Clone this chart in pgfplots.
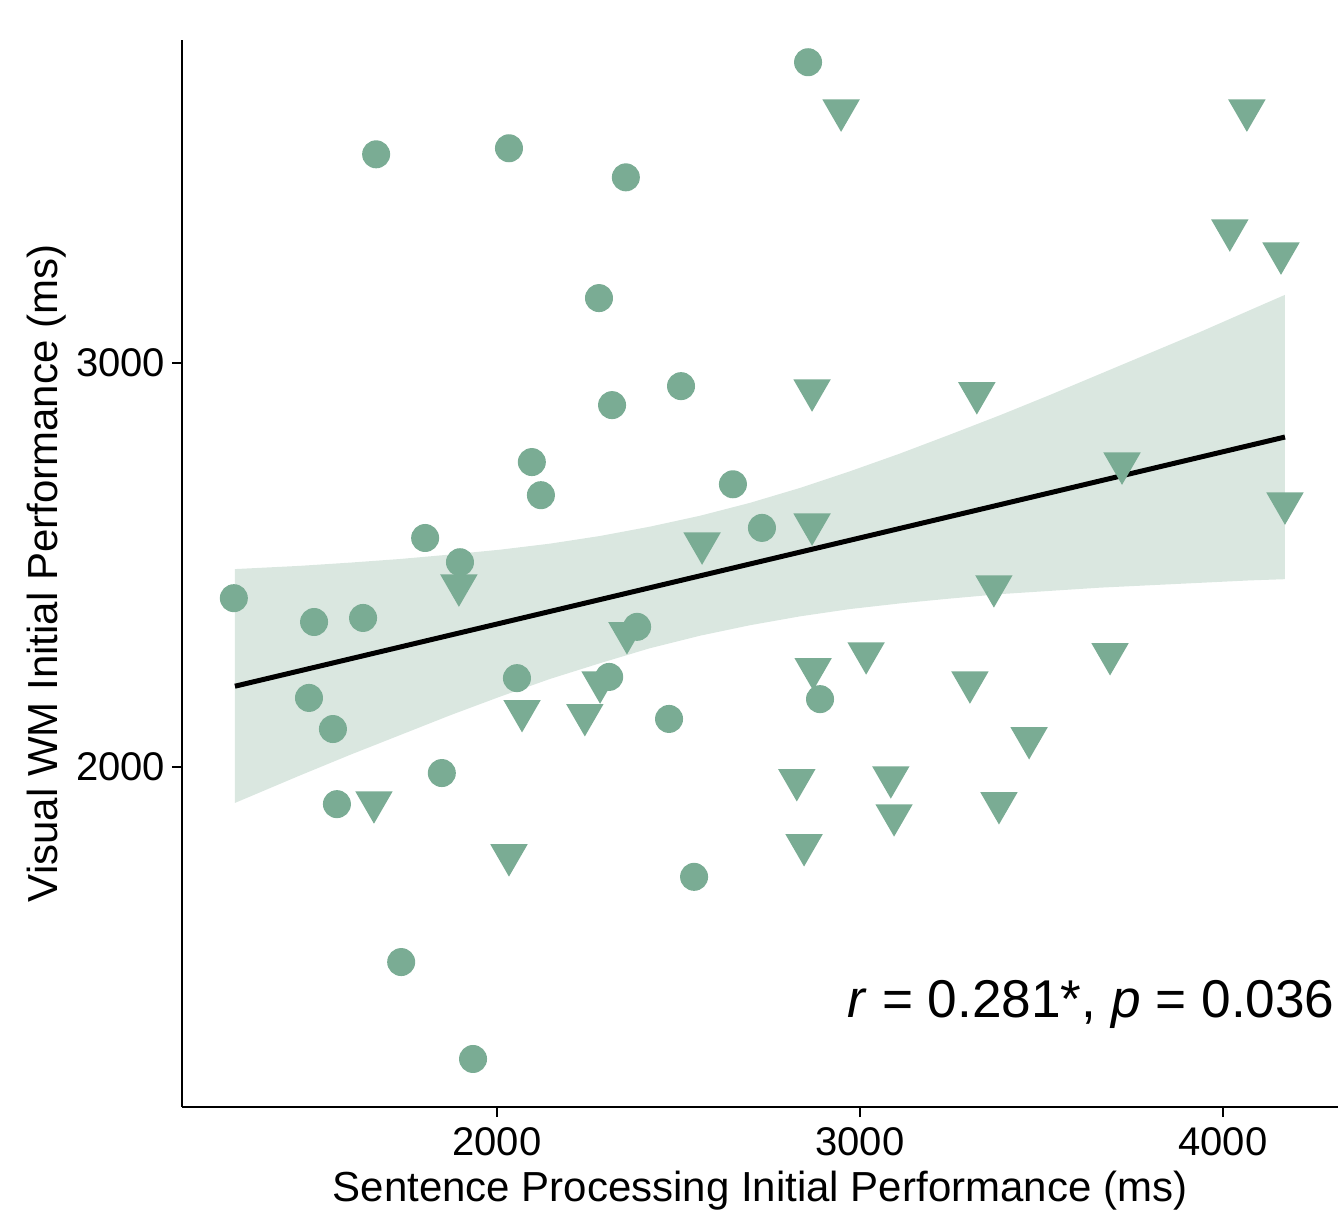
\documentclass[border=0pt]{standalone}
\usepackage{fontspec}
\setmainfont{Liberation Sans}
\usepackage{pgfplots}
\pgfplotsset{compat=1.18}
\usepgfplotslibrary{fillbetween}
\definecolor{pt}{RGB}{122,172,148}
\definecolor{band}{RGB}{218,231,224}
\begin{document}
\begin{tikzpicture}
\begin{axis}[
 width=289pt, height=266.75pt, scale only axis,
 xmin=1132, xmax=4317, ymin=1158, ymax=3800,
 axis lines=left, axis line style={-, line width=0.6pt},
 xtick={2000,3000,4000}, ytick={2000,3000},
 tick align=outside, major tick length=2.5pt, tick style={line width=0.6pt, black},
 /pgf/number format/assume math mode=true,
 /pgf/number format/set thousands separator={},
 ticklabel style={font=\fontsize{10}{12}\selectfont},
 yticklabel style={xshift=1.8pt},
 xticklabel style={yshift=1pt},
 xlabel={Sentence Processing Initial Performance (ms)},
 ylabel={Visual WM Initial Performance (ms)},
 label style={font=\fontsize{10.5}{12}\selectfont},
 xlabel style={at={(axis description cs:0.5,-0.078)}, anchor=center},
 ylabel style={at={(axis description cs:-0.117,0.5)}, anchor=center},
 clip=false,
]
\addplot[name path=up, draw=none, forget plot] coordinates {
(1278,2490) (1457,2498) (1595,2506) (1733,2515) (1871,2526) (2008,2538) (2146,2553)
(2284,2572) (2421,2595) (2559,2622) (2697,2654) (2835,2691) (2972,2732) (3110,2776)
(3248,2823) (3386,2871) (3523,2921) (3661,2973) (3799,3025) (3937,3077) (4074,3131) (4171,3169)};
\addplot[name path=lo, draw=none, forget plot] coordinates {
(1278,1911) (1457,1979) (1595,2030) (1733,2079) (1871,2128) (2008,2174) (2146,2218)
(2284,2257) (2421,2294) (2559,2325) (2697,2351) (2835,2373) (2972,2391) (3110,2405)
(3248,2417) (3386,2428) (3523,2436) (3661,2444) (3799,2450) (3937,2456) (4074,2462) (4171,2465)};
\addplot[fill=band, draw=none] fill between[of=up and lo];
\addplot[pt, only marks, mark=*, mark size=3.3pt] coordinates {
(2857,3745) (1667,3517) (2033,3532) (2355,3460) (2281,3161) (2507,2943)
(2317,2896) (2096,2755) (2121,2673) (2650,2700) (1802,2567) (1898,2507)
(2730,2592) (1275,2418) (1496,2359) (1631,2369) (2386,2347) (2055,2220)
(2309,2223) (1482,2171) (1548,2094) (2474,2119) (2890,2168) (1848,1985)
(1559,1908) (2543,1728) (1736,1517) (1934,1277)};
\addplot[pt, only marks, mark=triangle*, mark size=5pt, mark options={rotate=180}] coordinates {
(2948,3626) (4066,3626) (4019,3329) (4160,3272) (2868,2933) (3322,2926)
(3722,2752) (2868,2601) (4171,2653) (2565,2554) (1895,2450) (3369,2448)
(2358,2332) (3017,2282) (3689,2280) (2871,2243) (3303,2210) (2284,2210)
(2069,2139) (2242,2129) (3466,2072) (2826,1968) (3085,1975) (3094,1881)
(3383,1911) (1661,1913) (2846,1807) (2033,1782)};
\addplot[black, line width=1.25pt] coordinates {(1278,2200) (4171,2817)};
\node[anchor=base east, font=\fontsize{13.3}{15}\selectfont, inner sep=0pt] at (axis cs:4310,1379) {\textit{r} = 0.281*, \textit{p} = 0.036};
\coordinate (bbl) at (rel axis cs:-0.1574,-0.1012);
\coordinate (btr) at (rel axis cs:1.0052,1.0375);
\end{axis}
\path (bbl) rectangle (btr);
\end{tikzpicture}
\end{document}
